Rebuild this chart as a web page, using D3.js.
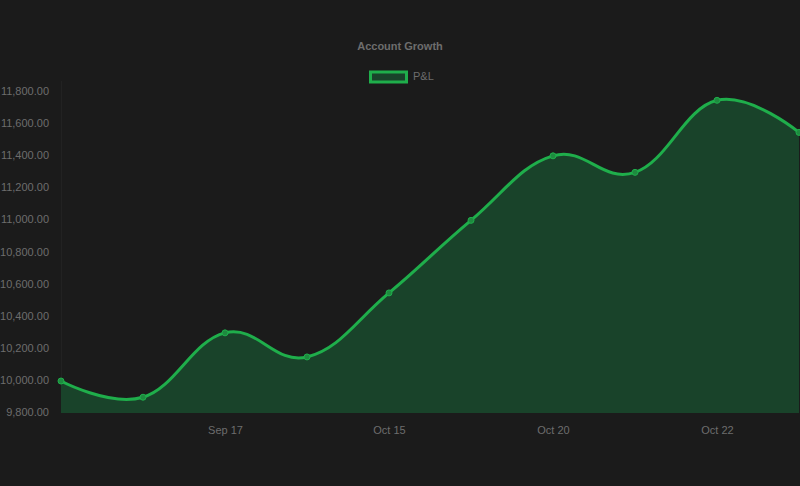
<!DOCTYPE html>
<html>
<head>
<meta charset="utf-8">
<script src="https://cdn.jsdelivr.net/npm/d3@7"></script>
<style>
  html, body { margin: 0; padding: 0; background: #1b1b1b; }
  svg { display: block; font-family: "Liberation Sans", Arial, sans-serif; }
</style>
</head>
<body>
<div id="vis"></div>
<script>
// chart data
const labels = ["", "", "Sep 17", "", "Oct 15", "", "Oct 20", "", "Oct 22", ""];
const pnl = [9993, 9892, 10293, 10143, 10542, 10994, 11396, 11293, 11742, 11542];
const yTicks = [9800, 10000, 10200, 10400, 10600, 10800, 11000, 11200, 11400, 11600, 11800];
const title = "Account Growth";
const seriesName = "P&L";

function drawChart(){
  const size = {width: 800, height: 486};
  const margin = {left: 61, right: 1, top: 91, bottom: 74};
  const {width, height} = size;
  const lineColor = "#1fae4b";
  const fillColor = "#19432a";
  const pointColor = "#1e8a3f";
  const textColor = "#6d6d6d";

  const svg = d3.select("#vis")
    .append("svg")
    .attr("viewBox", [0, 0, width, height])
    .style("width", `${width}px`)
    .style("height", `${height}px`);

  svg.append("rect")
    .attr("width", width)
    .attr("height", height)
    .attr("fill", "#1b1b1b");

  const x = d3.scalePoint()
    .domain(d3.range(labels.length))
    .range([margin.left, width - margin.right]);

  const y = d3.scaleLinear()
    .domain([yTicks[0], yTicks[yTicks.length - 1]])
    .range([height - margin.bottom, margin.top]);

  // chart.js-like spline (tension 0.4 ~ cardinal with k=0.2)
  const curve = d3.curveCardinal.tension(-0.2);

  const area = d3.area()
    .x((d, i) => x(i))
    .y0(y(yTicks[0]) + 1)
    .y1(d => y(d))
    .curve(curve);

  const line = d3.line()
    .x((d, i) => x(i))
    .y(d => y(d))
    .curve(curve);

  // faint left axis line
  svg.append("line")
    .attr("x1", margin.left + 0.5)
    .attr("x2", margin.left + 0.5)
    .attr("y1", margin.top - 10)
    .attr("y2", height - margin.bottom + 1)
    .attr("stroke", "#222")
    .attr("stroke-width", 1);

  svg.append("path")
    .datum(pnl)
    .attr("d", area)
    .attr("fill", fillColor);

  svg.append("path")
    .datum(pnl)
    .attr("d", line)
    .attr("fill", "none")
    .attr("stroke", lineColor)
    .attr("stroke-width", 3);

  svg.selectAll(".pt")
    .data(pnl)
    .join("circle")
    .attr("class", "pt")
    .attr("cx", (d, i) => x(i))
    .attr("cy", d => y(d))
    .attr("r", 3)
    .attr("fill", pointColor)
    .attr("stroke", lineColor)
    .attr("stroke-width", 1);

  // axes
  const yAxis = svg.append("g")
    .attr("transform", `translate(${margin.left - 9}, 0)`)
    .call(d3.axisLeft(y).tickValues(yTicks).tickFormat(d3.format(",.2f")).tickSize(0));
  yAxis.select(".domain").remove();

  const xAxis = svg.append("g")
    .attr("transform", `translate(0, ${height - margin.bottom + 11})`)
    .call(d3.axisBottom(x).tickFormat(i => labels[i]).tickSize(0));
  xAxis.select(".domain").remove();

  svg.selectAll(".tick text")
    .style("font-size", "11px")
    .style("font-family", "'Liberation Sans', Arial, sans-serif")
    .attr("fill", textColor);

  // title
  svg.append("text")
    .attr("x", width / 2)
    .attr("y", 50)
    .attr("text-anchor", "middle")
    .style("font-size", "11px")
    .style("font-weight", "bold")
    .attr("fill", textColor)
    .text(title);

  // legend
  svg.append("rect")
    .attr("x", 370.5)
    .attr("y", 72)
    .attr("width", 36)
    .attr("height", 10)
    .attr("fill", fillColor)
    .attr("stroke", lineColor)
    .attr("stroke-width", 3);

  svg.append("text")
    .attr("x", 413)
    .attr("y", 80)
    .style("font-size", "11px")
    .attr("fill", textColor)
    .text(seriesName);
}

drawChart();
</script>
</body>
</html>
